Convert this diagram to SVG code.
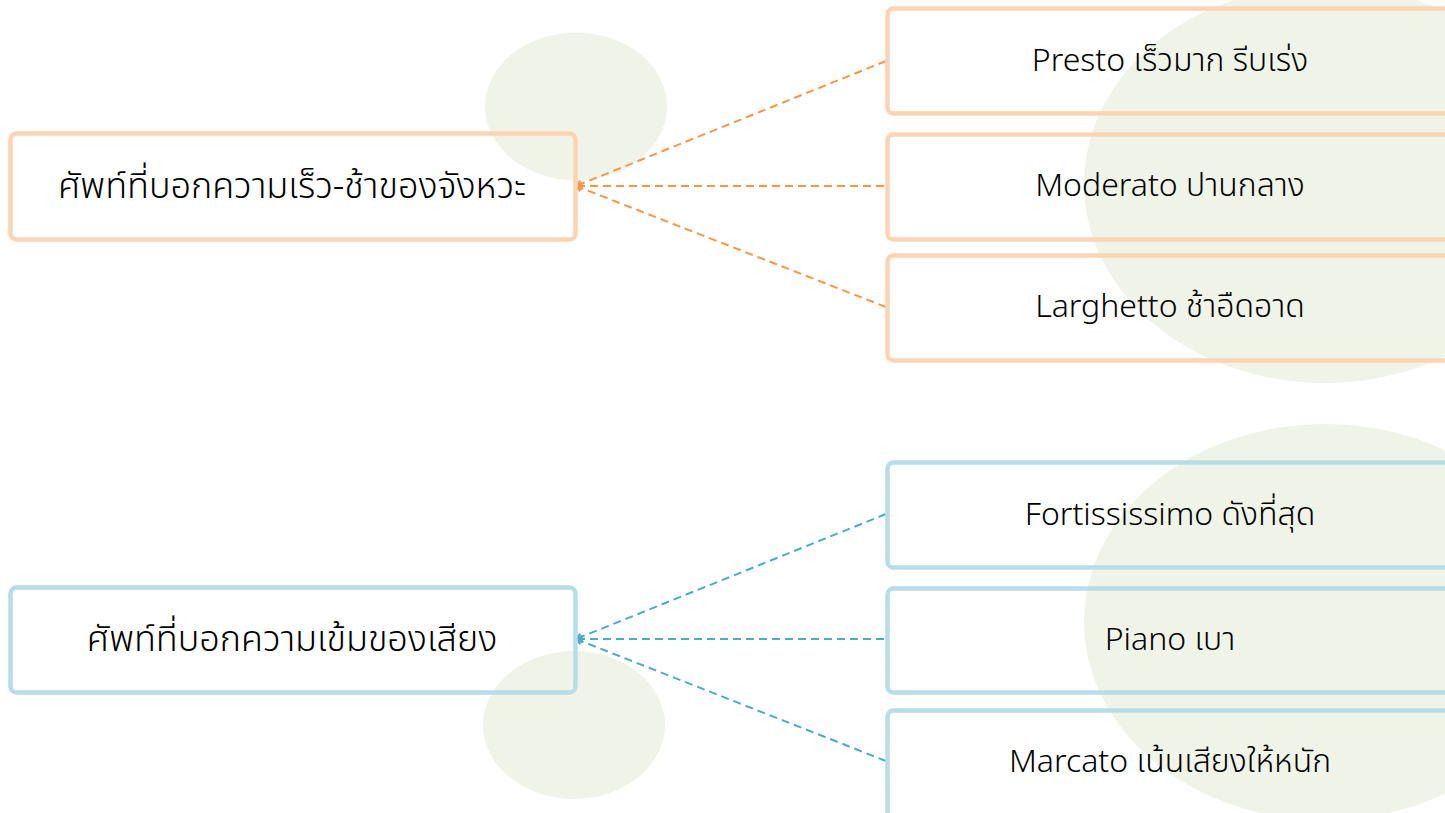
<svg xmlns="http://www.w3.org/2000/svg" width="1445" height="813" viewBox="0 0 1445 813">
<style>
.bg{fill:#f0f4e8}
.box{fill:none;stroke-width:4.5}
.o{stroke:#fcd4b2}
.b{stroke:#b7dde8}
.t{font-family:"Noto Sans Thai","Open Sans","Noto Sans",sans-serif;fill:#000;text-anchor:middle;font-weight:300}
.lt{font-size:36px}
.rt{font-size:32px}
.c{fill:none;stroke-width:2;stroke-dasharray:8 5}
.co{stroke:#f79646}
.cb{stroke:#4bacc6}
</style>
<defs>
<marker id="ao" markerWidth="10" markerHeight="10" refX="8" refY="5" orient="auto" markerUnits="userSpaceOnUse"><path d="M2,1.5 L8,5 L2,8.5" fill="none" stroke="#f79646" stroke-width="2"/></marker>
<marker id="ab" markerWidth="10" markerHeight="10" refX="8" refY="5" orient="auto" markerUnits="userSpaceOnUse"><path d="M2,1.5 L8,5 L2,8.5" fill="none" stroke="#4bacc6" stroke-width="2"/></marker>
</defs>
<rect width="1445" height="813" fill="#fff"/>
<g id="decor">
<ellipse class="bg" cx="576" cy="106.5" rx="91" ry="74"/>
<ellipse class="bg" cx="574" cy="725" rx="91" ry="74"/>
<ellipse class="bg" cx="1325" cy="184" rx="241" ry="199"/>
<ellipse class="bg" cx="1325" cy="622" rx="241" ry="198"/>
</g>
<g id="connectors">
<path class="c co" d="M886,61 L576,186" marker-end="url(#ao)"/>
<path class="c co" d="M884,186 L576,186" marker-end="url(#ao)"/>
<path class="c co" d="M886,307 L576,186" marker-end="url(#ao)"/>
<path class="c cb" d="M886,514 L576,639" marker-end="url(#ab)"/>
<path class="c cb" d="M884,639 L576,639" marker-end="url(#ab)"/>
<path class="c cb" d="M886,761 L576,639" marker-end="url(#ab)"/>
</g>
<g id="tempo">
<rect class="box o" x="10.5" y="133.5" width="565" height="106" rx="6"/>
<text class="t lt" x="292" y="198">ศัพท์ที่บอกความเร็ว-ช้าของจังหวะ</text>
</g>
<g id="presto">
<rect class="box o" x="887.5" y="8.5" width="600" height="105" rx="6"/>
<text class="t rt" x="1170" y="71">Presto เร็วมาก รีบเร่ง</text>
</g>
<g id="moderato">
<rect class="box o" x="887.5" y="134.5" width="600" height="105" rx="6"/>
<text class="t rt" x="1170" y="196">Moderato ปานกลาง</text>
</g>
<g id="larghetto">
<rect class="box o" x="887.5" y="255.5" width="600" height="105" rx="6"/>
<text class="t rt" x="1170" y="317">Larghetto ช้าอืดอาด</text>
</g>
<g id="dynamics">
<rect class="box b" x="10.5" y="587.5" width="565" height="105" rx="6"/>
<text class="t lt" x="292" y="651">ศัพท์ที่บอกความเข้มของเสียง</text>
</g>
<g id="fortississimo">
<rect class="box b" x="887.5" y="462.5" width="600" height="105" rx="6"/>
<text class="t rt" x="1170" y="525">Fortississimo ดังที่สุด</text>
</g>
<g id="piano">
<rect class="box b" x="887.5" y="588.5" width="600" height="104" rx="6"/>
<text class="t rt" x="1170" y="650">Piano เบา</text>
</g>
<g id="marcato">
<rect class="box b" x="887.5" y="710.5" width="600" height="120" rx="6"/>
<text class="t rt" x="1170" y="772">Marcato เน้นเสียงให้หนัก</text>
</g>
</svg>
